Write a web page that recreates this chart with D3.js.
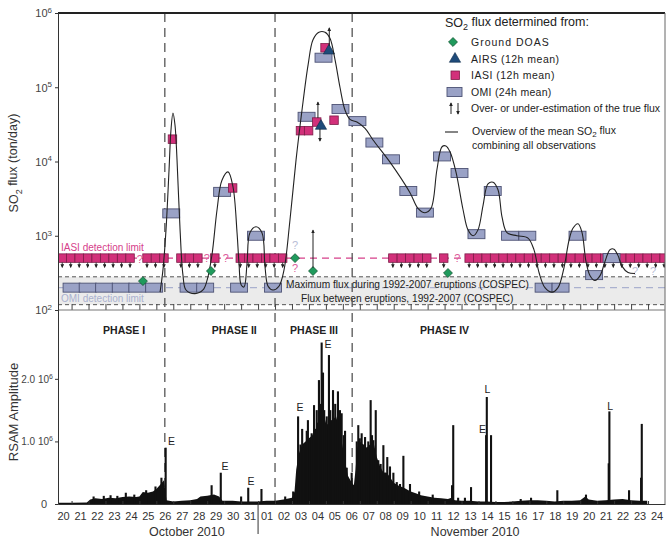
<!DOCTYPE html>
<html><head><meta charset="utf-8">
<script src="https://cdn.jsdelivr.net/npm/d3@7"></script>
<style>body{margin:0;background:#fff}svg{display:block;font-family:"Liberation Sans",Arial,sans-serif}</style>
</head><body><svg id="c" width="672" height="544"></svg>
<script>
// ---------------- DATA (days counted from 20 Oct 2010 00:00) ----------------
const dayLabels = ["20","21","22","23","24","25","26","27","28","29","30","31","01","02","03","04","05","06","07","08","09","10","11","12","13","14","15","16","17","18","19","20","21","22","23","24"];
const monthLabels = [["October 2010", 7.8], ["November 2010", 24.8]];
const phaseNames = ["PHASE I", "PHASE II", "PHASE III", "PHASE IV"];
const phaseCenters = [4.1, 10.6, 15.3, 23.0];
const phaseBounds = [6.5, 13.0, 17.55];
const so2Ticks = [1e2, 1e3, 1e4, 1e5, 1e6];
const rsamTicks = [0, 1, 2];
const iasiLimit = 500, omiLimit = 200, cospecMax = 280, cospecBetween = 118;

// Ground DOAS [day, t/d]
const doas = [[5.21,245],[9.22,335],[14.18,500],[15.24,335],[23.2,315]];
// AIRS 12h mean
const airs = [[15.71,30000],[16.18,310000]];
// IASI 12h mean above detection limit
const iasi = [[6.95,20000],[10.5,4400],[14.5,26000],[14.98,26000],[15.46,34000],[15.95,340000],[16.48,36000]];
// IASI below detection (plotted at limit, upper bound)
const iasiBelow = [0.45,0.95,1.45,1.95,2.45,2.95,3.45,3.95,4.45, 5.45,5.95,6.45, 7.45,7.95,8.45, 9.45,
  10.95,11.45,11.95,12.45,12.95,13.45, 19.95,20.45,20.95,21.45,21.95, 22.95,
  24.45,24.95,25.45,25.95,26.45,26.95,27.45,27.95,28.45,28.95,29.45,29.95,30.45,30.95,31.45,31.95,
  32.45,32.95,33.45,33.95,34.45,34.95,35.45,35.95];
// OMI 24h mean
const omi = [[1.0,200],[1.95,200],[2.92,200],[3.9,200],[4.88,200],[5.87,200],[6.88,2000],[7.9,200],[8.88,200],
  [9.88,3900],[10.88,200],[11.88,1000],[12.88,200],[14.86,40000],[15.86,250000],[16.86,51000],[17.86,35000],
  [18.86,18000],[19.84,10700],[20.86,4000],[21.84,2050],[22.85,11700],[23.88,7000],[24.88,1050],[25.84,4000],
  [26.86,1000],[27.88,1000],[28.84,200],[29.84,200],[30.84,1000],[31.82,295],[32.85,500]];
// over / under estimation arrows [day, from, to]
const estArrows = [[15.53,38500,63000],[15.65,27500,18900],[16.2,360000,630000],[15.24,370,1190]];
// question marks [day, value, kind]
const queries = [[5.02,480,"i"],[8.97,500,"i"],[10.1,500,"i"],[23.75,500,"i"],[14.18,370,"i"],[14.18,760,"o"],[34.23,340,"o"],[35.29,340,"o"]];
// overview of mean SO2 flux
const meanFlux = [[6.22,174],[6.39,347],[6.57,1200],[6.75,7800],[6.86,26000],[6.98,45000],[7.1,31000],[7.22,10500],
  [7.4,1200],[7.57,295],[7.75,186],[8.28,166],[8.75,186],[8.99,250],[9.28,550],[9.58,2240],[9.87,5600],[10.23,7240],
  [10.52,4570],[10.76,1100],[10.88,407],[11.0,219],[11.17,204],[11.35,427],[11.52,1100],[11.88,1320],[12.23,1100],
  [12.41,380],[12.59,209],[12.88,186],[13.23,209],[13.53,347],[13.88,1620],[14.24,10500],[14.59,49000],[14.95,200000],
  [15.24,436000],[15.59,550000],[15.95,550000],[16.24,457000],[16.54,234000],[16.83,100000],[17.13,49000],[17.42,37000],
  [17.83,34000],[18.31,28000],[18.78,19500],[19.78,9800],[20.96,3800],[21.43,2340],[21.85,2040],[22.2,2340],[22.55,7800],
  [22.85,15800],[23.08,16200],[23.32,13500],[23.67,7240],[24.09,2240],[24.38,1200],[24.68,1000],[24.97,1200],[25.27,2570],
  [25.56,5000],[25.86,5250],[26.15,4170],[26.39,1780],[26.68,1100],[27.27,1000],[27.92,930],[28.27,650],[28.57,320],
  [28.92,200],[29.34,174],[29.69,200],[30.04,370],[30.34,870],[30.57,1260],[30.87,1450],[31.1,1120],[31.34,450],
  [31.58,290],[31.87,250],[32.17,290],[32.46,450],[32.76,650],[32.99,660],[33.23,540],[33.46,390],[33.82,320],[34.23,310]];
// RSAM (units of 1e6) background level
const rsamBase = [[0.2,0.02],[1.0,0.02],[1.9,0.025],[2.1,0.07],[2.4,0.09],[2.8,0.08],[3.2,0.1],[3.6,0.09],[4.0,0.11],
  [4.4,0.12],[4.8,0.11],[5.0,0.12],[5.2,0.19],[5.5,0.18],[5.8,0.2],[6.0,0.24],[6.2,0.3],[6.45,0.38],[6.6,0.06],[7.0,0.04],
  [7.5,0.05],[8.0,0.06],[8.4,0.08],[8.6,0.12],[9.0,0.13],[9.4,0.15],[9.7,0.12],[9.9,0.05],[10.5,0.05],[11.0,0.04],
  [11.5,0.04],[12.0,0.04],[12.5,0.05],[13.0,0.05],[13.5,0.07],[14.0,0.1],[14.15,0.2],[14.25,0.55],[14.4,0.8],[14.6,0.95],
  [14.8,1.0],[15.0,1.05],[15.2,1.1],[15.4,1.2],[15.6,1.35],[15.8,1.5],[16.0,1.3],[16.2,1.25],[16.4,1.35],[16.6,1.4],
  [16.8,1.2],[17.0,0.9],[17.15,0.65],[17.3,0.45],[17.5,0.35],[17.65,0.3],[17.75,0.55],[17.85,0.9],[18.0,1.0],[18.2,0.95],
  [18.4,0.9],[18.6,0.95],[18.8,1.0],[19.0,0.75],[19.2,0.6],[19.4,0.5],[19.6,0.5],[19.8,0.42],[20.0,0.34],[20.3,0.29],
  [20.6,0.26],[21.0,0.2],[21.3,0.17],[21.6,0.14],[22.0,0.12],[22.4,0.1],[22.8,0.09],[23.2,0.08],[23.4,0.1],[23.6,0.06],
  [24.0,0.05],[24.5,0.05],[25.0,0.04],[25.5,0.04],[26.0,0.03],[26.5,0.03],[27.0,0.04],[27.5,0.05],[28.0,0.06],[28.5,0.06],
  [29.0,0.05],[29.5,0.04],[30.0,0.05],[30.5,0.05],[31.0,0.06],[31.3,0.12],[31.5,0.07],[32.0,0.05],[32.5,0.06],[33.0,0.07],
  [33.5,0.08],[34.0,0.06],[34.5,0.05],[34.95,0.05],[34.96,0]];
// RSAM spikes
const rsamSpikes = [[2.3,0.12],[2.9,0.13],[3.3,0.14],[3.7,0.13],[4.2,0.18],[4.7,0.15],[5.4,0.22],[5.95,0.28],[6.3,0.42],
  [6.55,0.9],[9.26,0.3],[9.8,0.5],[11.0,0.12],[11.42,0.26],[12.2,0.24],[13.6,0.12],[14.07,0.2],
  [14.36,1.4],[14.5,0.95],[14.6,1.2],[14.7,0.9],[14.87,1.17],[14.94,1.34],[15.05,1.05],[15.16,1.13],[15.3,1.58],[15.38,1.2],
  [15.46,1.5],[15.53,1.3],[15.59,1.98],[15.68,1.6],[15.75,2.58],[15.83,2.1],[15.9,1.5],[16.05,1.4],[16.18,2.38],[16.26,1.5],
  [16.34,1.34],[16.42,1.82],[16.55,1.6],[16.71,1.8],[16.83,1.5],[16.93,1.45],[17.05,1.1],[17.13,1.17],[17.23,0.58],
  [17.52,0.5],[17.82,1.0],[17.91,1.26],[18.0,1.05],[18.11,1.13],[18.2,0.95],[18.31,1.07],[18.4,0.9],[18.5,1.0],[18.64,1.66],
  [18.72,1.1],[18.8,1.02],[18.94,1.5],[19.09,0.7],[19.23,0.64],[19.39,0.94],[19.49,0.5],[19.62,0.75],[19.78,0.6],[19.98,0.5],
  [20.18,0.35],[20.37,0.32],[20.57,0.77],[20.96,0.32],[21.5,0.2],[22.3,0.15],[23.44,0.3],[23.51,1.26],[23.8,0.1],[24.2,0.1],
  [24.56,0.27],[25.45,1.1],[25.49,1.71],[25.74,1.1],[27.49,0.08],[28.1,0.1],[29.65,0.22],[31.34,0.15],[32.68,0.65],
  [32.72,1.48],[33.88,0.22],[34.59,0.42],[34.63,1.28]];
// RSAM event labels [day, value, text]
const rsamNotes = [[6.9,1.0,"E"],[10.05,0.61,"E"],[11.58,0.36,"E"],[14.47,1.55,"E"],[16.12,2.56,"E"],[25.23,1.2,"E"],[25.52,1.84,"L"],[32.76,1.57,"L"]];

// ---------------- LAYOUT ----------------
const X0 = 58, X1 = 665, YT = 13, YM = 310, YB = 504;
const svg = d3.select("#c");
const x = d3.scaleLinear().domain([0.2, 36]).range([X0, X1]);
const y = d3.scaleLog().domain([100, 1e6]).range([YM, YT]);
const yr = d3.scaleLinear().domain([0, 3.1]).range([YB, YM]);

const C = {iasi:"#d2307a", iasiS:"#7d1c48", iasiTxt:"#d6408a", omi:"#9aa2c6", omiS:"#4d5274", omiTxt:"#aab1cf",
  doas:"#1f9a5c", doasS:"#0d4f2c", airs:"#1e4b7a", ax:"#333"};

const defs = svg.append("defs");
defs.append("marker").attr("id","ah").attr("viewBox","0 0 6 6").attr("refX",5).attr("refY",3)
  .attr("markerWidth",4).attr("markerHeight",4).attr("orient","auto")
  .append("path").attr("d","M0,0L6,3L0,6z").attr("fill","#222");
defs.append("clipPath").attr("id","clipTop").append("rect").attr("x",X0).attr("y",YT).attr("width",X1-X0).attr("height",YM-YT);

// band
svg.append("rect").attr("x",X0).attr("y",y(cospecMax)).attr("width",X1-X0).attr("height",y(cospecBetween)-y(cospecMax)).attr("fill","#ebebeb");
[cospecMax, cospecBetween].forEach(v => svg.append("line").attr("x1",X0).attr("x2",X1).attr("y1",y(v)).attr("y2",y(v))
  .attr("stroke","#555").attr("stroke-width",1).attr("stroke-dasharray","4,3"));
svg.append("line").attr("x1",X0).attr("x2",X1).attr("y1",y(omiLimit)).attr("y2",y(omiLimit))
  .attr("stroke",C.omiTxt).attr("stroke-width",1.2).attr("stroke-dasharray","7,5");
svg.append("line").attr("x1",X0).attr("x2",X1).attr("y1",y(iasiLimit)).attr("y2",y(iasiLimit))
  .attr("stroke",C.iasiTxt).attr("stroke-width",1.2).attr("stroke-dasharray","7,5");

svg.append("text").attr("x",286).attr("y",y(cospecMax)+11).attr("font-size",10.2).attr("fill","#222")
  .text("Maximum flux during 1992-2007 eruptions (COSPEC)");
svg.append("text").attr("x",301).attr("y",y(cospecBetween)-3).attr("font-size",10.2).attr("fill","#222")
  .text("Flux between eruptions, 1992-2007 (COSPEC)");
svg.append("text").attr("x",61).attr("y",y(iasiLimit)-7).attr("font-size",10).attr("fill",C.iasiTxt).text("IASI detection limit");
svg.append("text").attr("x",61).attr("y",y(omiLimit)+14).attr("font-size",10).attr("fill",C.omiTxt).text("OMI detection limit");

// phase lines
phaseBounds.forEach(d => svg.append("line").attr("x1",x(d)).attr("x2",x(d)).attr("y1",YT).attr("y2",YB)
  .attr("stroke","#555").attr("stroke-width",1.3).attr("stroke-dasharray","9,6"));

// ticks on top panel bottom
svg.append("g").attr("transform",`translate(0,${YM})`)
  .call(d3.axisTop(x).tickValues(d3.range(1,36)).tickSize(6).tickFormat(""))
  .call(g => { g.select(".domain").remove(); g.selectAll("line").attr("stroke","#444"); });

const topG = svg.append("g").attr("clip-path","url(#clipTop)");
const iw = x(0.25) - x(0); // half of 12h width
// IASI below-limit row
const row = topG.append("g");
iasiBelow.forEach(d => {
  row.append("rect").attr("x",x(d)-iw).attr("y",y(iasiLimit)-iw).attr("width",2*iw).attr("height",2*iw)
    .attr("fill",C.iasi).attr("stroke",C.iasiS).attr("stroke-width",0.8);
  row.append("line").attr("x1",x(d)).attr("x2",x(d)).attr("y1",y(iasiLimit)+iw).attr("y2",y(iasiLimit)+iw+5)
    .attr("stroke","#333").attr("stroke-width",0.9).attr("marker-end","url(#ah)");
});
// OMI boxes
const ow = x(0.5) - x(0);
topG.append("g").selectAll("rect").data(omi).join("rect")
  .attr("x",d => x(d[0])-ow).attr("y",d => y(d[1])-4.5).attr("width",2*ow).attr("height",9)
  .attr("fill",C.omi).attr("stroke",C.omiS).attr("stroke-width",0.9);
// IASI high
topG.append("g").selectAll("rect").data(iasi).join("rect")
  .attr("x",d => x(d[0])-iw).attr("y",d => y(d[1])-iw).attr("width",2*iw).attr("height",2*iw)
  .attr("fill",C.iasi).attr("stroke",C.iasiS).attr("stroke-width",0.8);
// AIRS
topG.append("g").selectAll("path").data(airs).join("path")
  .attr("transform",d => `translate(${x(d[0])},${y(d[1])})`)
  .attr("d",d3.symbol(d3.symbolTriangle,55)).attr("fill",C.airs).attr("stroke","#0f2c4a").attr("stroke-width",0.6);
// mean flux line
topG.append("path").datum(meanFlux)
  .attr("d",d3.line().x(d => x(d[0])).y(d => y(d[1])).curve(d3.curveCatmullRom.alpha(0.5)))
  .attr("fill","none").attr("stroke","#222").attr("stroke-width",1.1);
// DOAS
topG.append("g").selectAll("path").data(doas).join("path")
  .attr("transform",d => `translate(${x(d[0])},${y(d[1])}) rotate(45)`)
  .attr("d",d3.symbol(d3.symbolSquare,40)).attr("fill",C.doas).attr("stroke",C.doasS).attr("stroke-width",0.7);
// arrows
topG.append("g").selectAll("line").data(estArrows).join("line")
  .attr("x1",d => x(d[0])).attr("x2",d => x(d[0])).attr("y1",d => y(d[1])).attr("y2",d => y(d[2]))
  .attr("stroke","#222").attr("stroke-width",1).attr("marker-end","url(#ah)");
// question marks
topG.append("g").selectAll("text").data(queries).join("text")
  .attr("x",d => x(d[0])).attr("y",d => y(d[1])+4).attr("text-anchor","middle").attr("font-size",11)
  .attr("fill",d => d[2] === "i" ? "#dc5c9c" : "#b8bdd6").text("?");

// ---------------- RSAM ----------------
svg.append("path").datum(rsamBase)
  .attr("d",d3.area().x(d => x(d[0])).y0(yr(0)).y1(d => yr(d[1])))
  .attr("fill","#111");
svg.append("g").selectAll("line").data(rsamSpikes).join("line")
  .attr("x1",d => x(d[0])).attr("x2",d => x(d[0])).attr("y1",yr(0)).attr("y2",d => yr(d[1]))
  .attr("stroke","#111").attr("stroke-width",2.1);
svg.append("g").selectAll("text").data(rsamNotes).join("text")
  .attr("x",d => x(d[0])).attr("y",d => yr(d[1])+4).attr("text-anchor","middle").attr("font-size",10.5).attr("fill","#222")
  .text(d => d[2]);
svg.append("g").selectAll("text").data(phaseNames).join("text")
  .attr("x",(d,i) => x(phaseCenters[i])).attr("y",334).attr("text-anchor","middle")
  .attr("font-size",10.5).attr("font-weight","bold").attr("fill","#222").text(d => d);

// ---------------- FRAME & AXES ----------------
svg.append("line").attr("x1",X0).attr("x2",X1).attr("y1",YT).attr("y2",YT).attr("stroke","#222").attr("stroke-width",2.2);
svg.append("line").attr("x1",X1).attr("x2",X1).attr("y1",YT).attr("y2",YB).attr("stroke","#666").attr("stroke-width",1);
svg.append("line").attr("x1",X0).attr("x2",X1).attr("y1",YM).attr("y2",YM).attr("stroke","#777").attr("stroke-width",1);

const ax1 = svg.append("g").attr("transform",`translate(${X0},0)`)
  .call(d3.axisLeft(y).tickValues(so2Ticks).tickSize(3).tickFormat(""));
ax1.select(".domain").attr("stroke",C.ax);
ax1.selectAll(".tick line").attr("stroke",C.ax);
ax1.selectAll(".tick").append("text").attr("x",-6).attr("dy","0.35em").attr("text-anchor","end")
  .attr("fill","#444").attr("font-size",11)
  .each(function(d){ const t = d3.select(this); t.append("tspan").text("10");
    t.append("tspan").attr("font-size",8).attr("dy","-0.55em").text(Math.round(Math.log10(d))); });

const ax2 = svg.append("g").attr("transform",`translate(${X0},0)`)
  .call(d3.axisLeft(yr).tickValues(rsamTicks).tickSize(3).tickFormat(""));
ax2.select(".domain").attr("stroke",C.ax);
ax2.selectAll(".tick line").attr("stroke",C.ax);
ax2.selectAll(".tick").append("text").attr("x",d => d === 0 ? -11 : -5).attr("dy","0.35em").attr("text-anchor","end")
  .attr("fill","#444").attr("font-size",10)
  .each(function(d){ const t = d3.select(this);
    if (d === 0) { t.attr("font-size",11).text("0"); return; }
    t.append("tspan").text(d.toFixed(1) + " 10");
    t.append("tspan").attr("font-size",7).attr("dy","-0.6em").text("6"); });

// bottom axis
const axb = svg.append("g").attr("transform",`translate(0,${YB})`)
  .call(d3.axisBottom(x).tickValues(d3.range(36).map(i => i + 0.5)).tickSize(0).tickPadding(8)
    .tickFormat((d,i) => dayLabels[i]));
axb.select(".domain").attr("stroke",C.ax).attr("stroke-width",1.2);
axb.selectAll("text").attr("font-size",11).attr("fill","#333").attr("font-family","Liberation Sans, Arial, sans-serif");
svg.append("g").attr("transform",`translate(0,${YB})`)
  .call(d3.axisTop(x).tickValues(d3.range(1,36)).tickSize(3).tickFormat(""))
  .call(g => { g.select(".domain").remove(); g.selectAll("line").attr("stroke","#333"); });
svg.append("line").attr("x1",x(12)).attr("x2",x(12)).attr("y1",YB).attr("y2",YB+30).attr("stroke","#333").attr("stroke-width",1);
svg.append("g").selectAll("text").data(monthLabels).join("text")
  .attr("x",d => x(d[1])).attr("y",536).attr("text-anchor","middle").attr("font-size",12.5).attr("fill","#333").text(d => d[0]);

// axis titles
const t1 = svg.append("text").attr("transform","translate(14,163) rotate(-90)").attr("text-anchor","middle")
  .attr("dy","0.35em").attr("font-size",12.5).attr("fill","#333");
t1.append("tspan").text("SO");
t1.append("tspan").attr("font-size",9).attr("dy","0.35em").text("2");
t1.append("tspan").attr("dy","-0.35em").text(" flux (ton/day)");
svg.append("text").attr("transform","translate(13,412) rotate(-90)").attr("text-anchor","middle")
  .attr("dy","0.35em").attr("font-size",13).attr("fill","#333").text("RSAM Amplitude");

// ---------------- LEGEND ----------------
const lg = svg.append("g");
const lt = lg.append("text").attr("x",445).attr("y",27).attr("font-size",12.5).attr("fill","#222");
lt.append("tspan").text("SO");
lt.append("tspan").attr("font-size",9).attr("dy","0.35em").text("2");
lt.append("tspan").attr("dy","-0.35em").text(" flux determined from:");
lg.append("path").attr("transform","translate(453,42) rotate(45)").attr("d",d3.symbol(d3.symbolSquare,40))
  .attr("fill",C.doas).attr("stroke",C.doasS).attr("stroke-width",0.7);
lg.append("path").attr("transform","translate(455,59)").attr("d",d3.symbol(d3.symbolTriangle,55))
  .attr("fill",C.airs).attr("stroke","#0f2c4a").attr("stroke-width",0.6);
lg.append("rect").attr("x",451).attr("y",71).attr("width",8.5).attr("height",8.5).attr("fill",C.iasi).attr("stroke",C.iasiS).attr("stroke-width",0.8);
lg.append("rect").attr("x",447).attr("y",87.5).attr("width",15).attr("height",9).attr("fill",C.omi).attr("stroke",C.omiS).attr("stroke-width",0.9);
lg.append("line").attr("x1",451).attr("x2",451).attr("y1",114).attr("y2",103).attr("stroke","#222").attr("marker-end","url(#ah)");
lg.append("line").attr("x1",458).attr("x2",458).attr("y1",103).attr("y2",114).attr("stroke","#222").attr("marker-end","url(#ah)");
lg.append("line").attr("x1",445).attr("x2",458).attr("y1",132).attr("y2",132).attr("stroke","#222").attr("stroke-width",1.1);
const legItems = [["Ground DOAS",46,1],["AIRS (12h mean)",63,0.5],["IASI (12h mean)",79,0.5],["OMI (24h mean)",96,0.3],
  ["Over- or under-estimation of the true flux",112,0]];
legItems.forEach(d => lg.append("text").attr("x",471).attr("y",d[1]).attr("font-size",10.5).attr("letter-spacing",d[2])
  .attr("fill","#222").text(d[0]));
const l6 = lg.append("text").attr("x",472).attr("y",135).attr("font-size",10.5).attr("fill","#222");
l6.append("tspan").text("Overview of the mean SO");
l6.append("tspan").attr("font-size",8).attr("dy","0.25em").text("2");
l6.append("tspan").attr("dy","-0.25em").text(" flux");
lg.append("text").attr("x",472).attr("y",149).attr("font-size",10.5).attr("fill","#222").text("combining all observations");
</script></body></html>
